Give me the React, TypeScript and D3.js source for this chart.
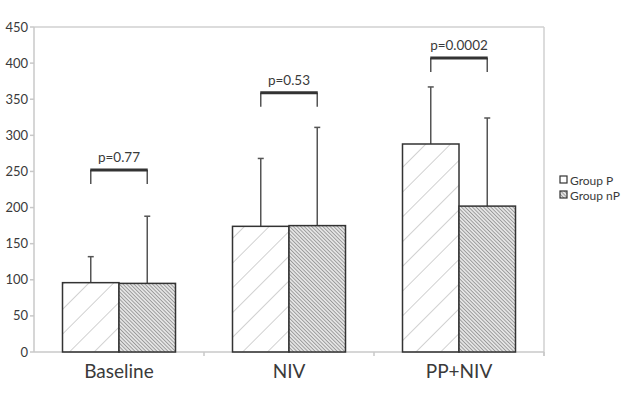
import React from "react";
import * as d3 from "d3";

const categories = ["Baseline", "NIV", "PP+NIV"];
const groups = ["Group P", "Group nP"];
const meanP = [96, 174, 288];
const meanNP = [95, 175, 202];
const sdTopP = [132, 268, 367];
const sdTopNP = [188, 311, 324];
const pValues = ["p=0.77", "p=0.53", "p=0.0002"];
const bracketLevel = [252, 359, 407];
const yTicks = [0, 50, 100, 150, 200, 250, 300, 350, 400, 450];

const W = 638;
const H = 406;
const left = 34;
const right = 544;
const top = 27;
const bottom = 352;
const font = "Lato, 'Open Sans', sans-serif";

export default function App() {
  const x = d3.scaleBand<string>().domain(categories).range([left, right]).paddingInner(0).paddingOuter(0);
  const y = d3.scaleLinear().domain([0, 450]).range([bottom, top]);
  const bw = 56.5;
  const series = [
    { key: groups[0], means: meanP, tops: sdTopP, fill: "url(#hatchP)" },
    { key: groups[1], means: meanNP, tops: sdTopNP, fill: "url(#hatchNP)" },
  ];
  const barX = (i: number, s: number) => (x(categories[i]) as number) + x.bandwidth() / 2 - bw + s * bw;
  return (
    <svg width={W} height={H} style={{ position: "absolute", left: 0, top: 0, background: "#fff" }}>
      <defs>
        <pattern id="hatchP" patternUnits="userSpaceOnUse" width="17.5" height="17.5" patternTransform="rotate(45)">
          <line x1="0" y1="0" x2="0" y2="17.5" stroke="#b8b8b8" strokeWidth="1.3" />
        </pattern>
        <pattern id="hatchNP" patternUnits="userSpaceOnUse" width="2.6" height="2.6" patternTransform="rotate(-45)">
          <rect width="2.6" height="2.6" fill="#e4e4e4" />
          <line x1="0" y1="0" x2="0" y2="2.6" stroke="#6a6a6a" strokeWidth="1.1" />
        </pattern>
      </defs>
      <line x1={left} x2={right} y1={top} y2={top} stroke="#d0d0d0" strokeWidth={1.5} />
      <line x1={right} x2={right} y1={top} y2={bottom + 4} stroke="#d0d0d0" strokeWidth={1.5} />
      <line x1={left} x2={left} y1={top} y2={bottom} stroke="#c8c8c8" strokeWidth={1.5} />
      <line x1={left} x2={right} y1={bottom} y2={bottom} stroke="#c8c8c8" strokeWidth={1.5} />
      {yTicks.map((t) => (
        <g key={t}>
          <line x1={left - 4} x2={left} y1={y(t)} y2={y(t)} stroke="#c8c8c8" strokeWidth={1.5} />
          <text x={left - 6} y={y(t)} dy="0.35em" textAnchor="end" fontFamily={font} fontSize={13} fill="#3a3a3a">
            {t}
          </text>
        </g>
      ))}
      {categories.map((c, i) => (
        <g key={c}>
          <line x1={(x(c) as number) + x.bandwidth()} x2={(x(c) as number) + x.bandwidth()} y1={bottom} y2={bottom + 4} stroke="#c8c8c8" strokeWidth={1.5} />
          <text x={(x(c) as number) + x.bandwidth() / 2} y={378} textAnchor="middle" fontFamily={font} fontSize={19} fill="#3a3a3a">
            {c}
          </text>
        </g>
      ))}
      {series.map((s, si) =>
        categories.map((c, i) => {
          const bx = barX(i, si);
          const cx = bx + bw / 2;
          return (
            <g key={c + si}>
              <line x1={cx} x2={cx} y1={y(s.means[i])} y2={y(s.tops[i])} stroke="#555" strokeWidth={1.5} />
              <line x1={cx - 3} x2={cx + 3} y1={y(s.tops[i])} y2={y(s.tops[i])} stroke="#555" strokeWidth={1.5} />
              <rect x={bx} y={y(s.means[i])} width={bw} height={bottom - y(s.means[i])} fill={s.fill} stroke="#333" strokeWidth={1.5} />
            </g>
          );
        })
      )}
      {categories.map((c, i) => {
        const c1 = barX(i, 0) + bw / 2;
        const c2 = barX(i, 1) + bw / 2;
        const by = y(bracketLevel[i]);
        return (
          <g key={"br" + c}>
            <line x1={c1} x2={c1} y1={by} y2={by + 14} stroke="#555" strokeWidth={1.5} />
            <line x1={c2} x2={c2} y1={by} y2={by + 14} stroke="#555" strokeWidth={1.5} />
            <line x1={c1 - 0.5} x2={c2 + 0.5} y1={by} y2={by} stroke="#333" strokeWidth={3} />
            <text x={(c1 + c2) / 2} y={by - 8} textAnchor="middle" fontFamily={font} fontSize={13.5} fill="#3a3a3a">
              {pValues[i]}
            </text>
          </g>
        );
      })}
      {groups.map((g, gi) => (
        <g key={g} transform={`translate(560, ${176 + gi * 15})`}>
          <rect x={0} y={0} width={7} height={7} fill={gi === 0 ? "#fff" : "url(#hatchNP)"} stroke="#333" strokeWidth={1.2} />
          <text x={10} y={8.5} fontFamily={font} fontSize={12} fill="#3a3a3a">
            {g}
          </text>
        </g>
      ))}
    </svg>
  );
}
